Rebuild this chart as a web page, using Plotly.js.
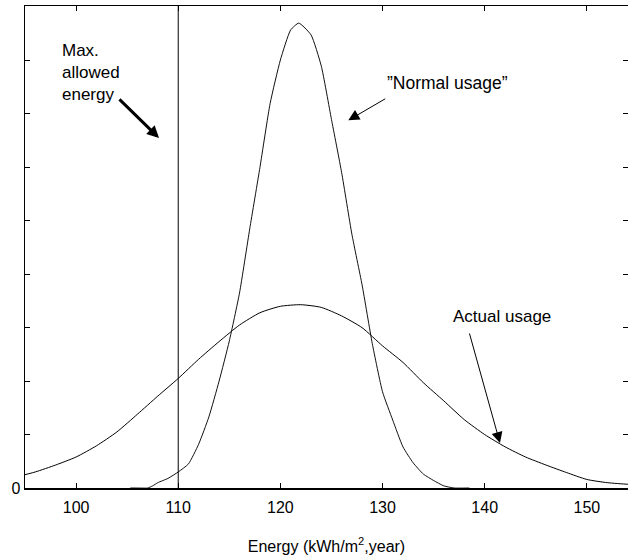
<!DOCTYPE html>
<html>
<head>
<meta charset="utf-8">
<script src="https://cdn.plot.ly/plotly-3.0.1.min.js"></script>
<style>html,body{margin:0;padding:0;background:#fff;}</style>
</head>
<body>
<div id="chart" style="width:628px;height:557px;"></div>
<script>
// "Normal usage" distribution
const normalX = [105.3, 106, 107, 107.5, 108, 109, 110, 111, 112, 113, 114, 115, 116, 117, 118, 119, 120, 121, 121.8, 123, 124, 125, 126, 127, 128, 129, 130, 131, 132, 133, 134, 135, 136, 137, 138.5];
const normalY = [0, 0, 0, 0.04, 0.1, 0.18, 0.3, 0.45, 0.82, 1.33, 2.0, 2.75, 3.65, 4.85, 6.0, 7.2, 8.01, 8.57, 8.7, 8.48, 7.9, 6.9, 5.9, 4.75, 3.8, 2.7, 1.8, 1.27, 0.77, 0.47, 0.26, 0.14, 0.04, 0, 0];
// Actual usage distribution
const actualX = [94, 96, 98, 100, 102, 104, 106, 108, 110, 112, 114, 116, 118, 120, 122, 124, 126, 128, 130, 132, 134, 136, 138, 140, 142, 144, 146, 148, 150, 152, 154, 155];
const actualY = [0.2, 0.3, 0.43, 0.58, 0.79, 1.05, 1.38, 1.72, 2.05, 2.41, 2.74, 3.05, 3.28, 3.40, 3.43, 3.38, 3.22, 3.0, 2.66, 2.35, 1.97, 1.63, 1.28, 1.0, 0.77, 0.58, 0.43, 0.29, 0.16, 0.1, 0.07, 0.06];
// Max. allowed energy
const maxAllowed = [110];
// Axis ticks
const xTicks = [100, 110, 120, 130, 140, 150];
const yTicks = [0, 1, 2, 3, 4, 5, 6, 7, 8];
const yTickText = ['0', '', '', '', '', '', '', '', ''];

const FONT = 'Liberation Sans, Arial, Helvetica, sans-serif';

const traces = [
  {x: actualX, y: actualY, type: 'scatter', mode: 'lines',
   line: {color: '#000', width: 1, shape: 'spline', smoothing: 0.6}, hoverinfo: 'skip'},
  {x: normalX, y: normalY, type: 'scatter', mode: 'lines',
   line: {color: '#111', width: 1, shape: 'spline', smoothing: 0.5}, hoverinfo: 'skip'}
];

const layout = {
  width: 628, height: 557,
  margin: {l: 25, r: 0, t: 6, b: 69},
  paper_bgcolor: '#fff', plot_bgcolor: '#fff',
  showlegend: false,
  font: {family: FONT, size: 16, color: '#000'},
  xaxis: {
    range: [95, 154.03], tickvals: xTicks, ticks: 'inside', ticklen: 5, tickcolor: '#000',
    showline: true, linecolor: '#000', linewidth: 1.5, mirror: 'allticks',
    showgrid: false, zeroline: false, tickfont: {size: 16}, ticklabelstandoff: 4,
    title: {text: 'Energy (kWh/m<sup>2</sup>,year)', font: {size: 16}, standoff: 26}
  },
  yaxis: {
    range: [0, 9.02], tickvals: yTicks, ticktext: yTickText, ticks: 'inside', ticklen: 5, tickcolor: '#000',
    showline: true, linecolor: '#000', linewidth: 1.5, mirror: 'allticks',
    showgrid: false, zeroline: false, tickfont: {size: 16}
  },
  shapes: [
    {type: 'line', xref: 'x', yref: 'paper', x0: maxAllowed[0], x1: maxAllowed[0], y0: 0, y1: 1,
     line: {color: '#000', width: 1}}
  ],
  annotations: [
    {x: 98.43, y: 7.78, xref: 'x', yref: 'y', text: 'Max.<br>allowed<br>energy', showarrow: false,
     xanchor: 'left', yanchor: 'middle', align: 'left', font: {size: 17}},
    {x: 130.24, y: 7.58, xref: 'x', yref: 'y', text: '\u201DNormal usage\u201D', showarrow: false,
     xanchor: 'left', yanchor: 'middle', font: {size: 17.5}},
    {x: 136.70, y: 3.21, xref: 'x', yref: 'y', text: 'Actual usage', showarrow: false,
     xanchor: 'left', yanchor: 'middle', font: {size: 17}},
    {x: 108.12, y: 6.55, ax: 104.10, ay: 7.30, xref: 'x', yref: 'y', axref: 'x', ayref: 'y', text: '',
     showarrow: true, arrowhead: 2, arrowsize: 0.8, arrowwidth: 3, arrowcolor: '#000'},
    {x: 126.65, y: 6.88, ax: 130.41, ay: 7.30, xref: 'x', yref: 'y', axref: 'x', ayref: 'y', text: '',
     showarrow: true, arrowhead: 2, arrowsize: 2.2, arrowwidth: 1, arrowcolor: '#000'},
    {x: 141.50, y: 0.84, ax: 138.47, ay: 2.92, xref: 'x', yref: 'y', axref: 'x', ayref: 'y', text: '',
     showarrow: true, arrowhead: 2, arrowsize: 2.2, arrowwidth: 1, arrowcolor: '#000'}
  ]
};

Plotly.newPlot('chart', traces, layout, {staticPlot: true, displayModeBar: false});
</script>
</body>
</html>
